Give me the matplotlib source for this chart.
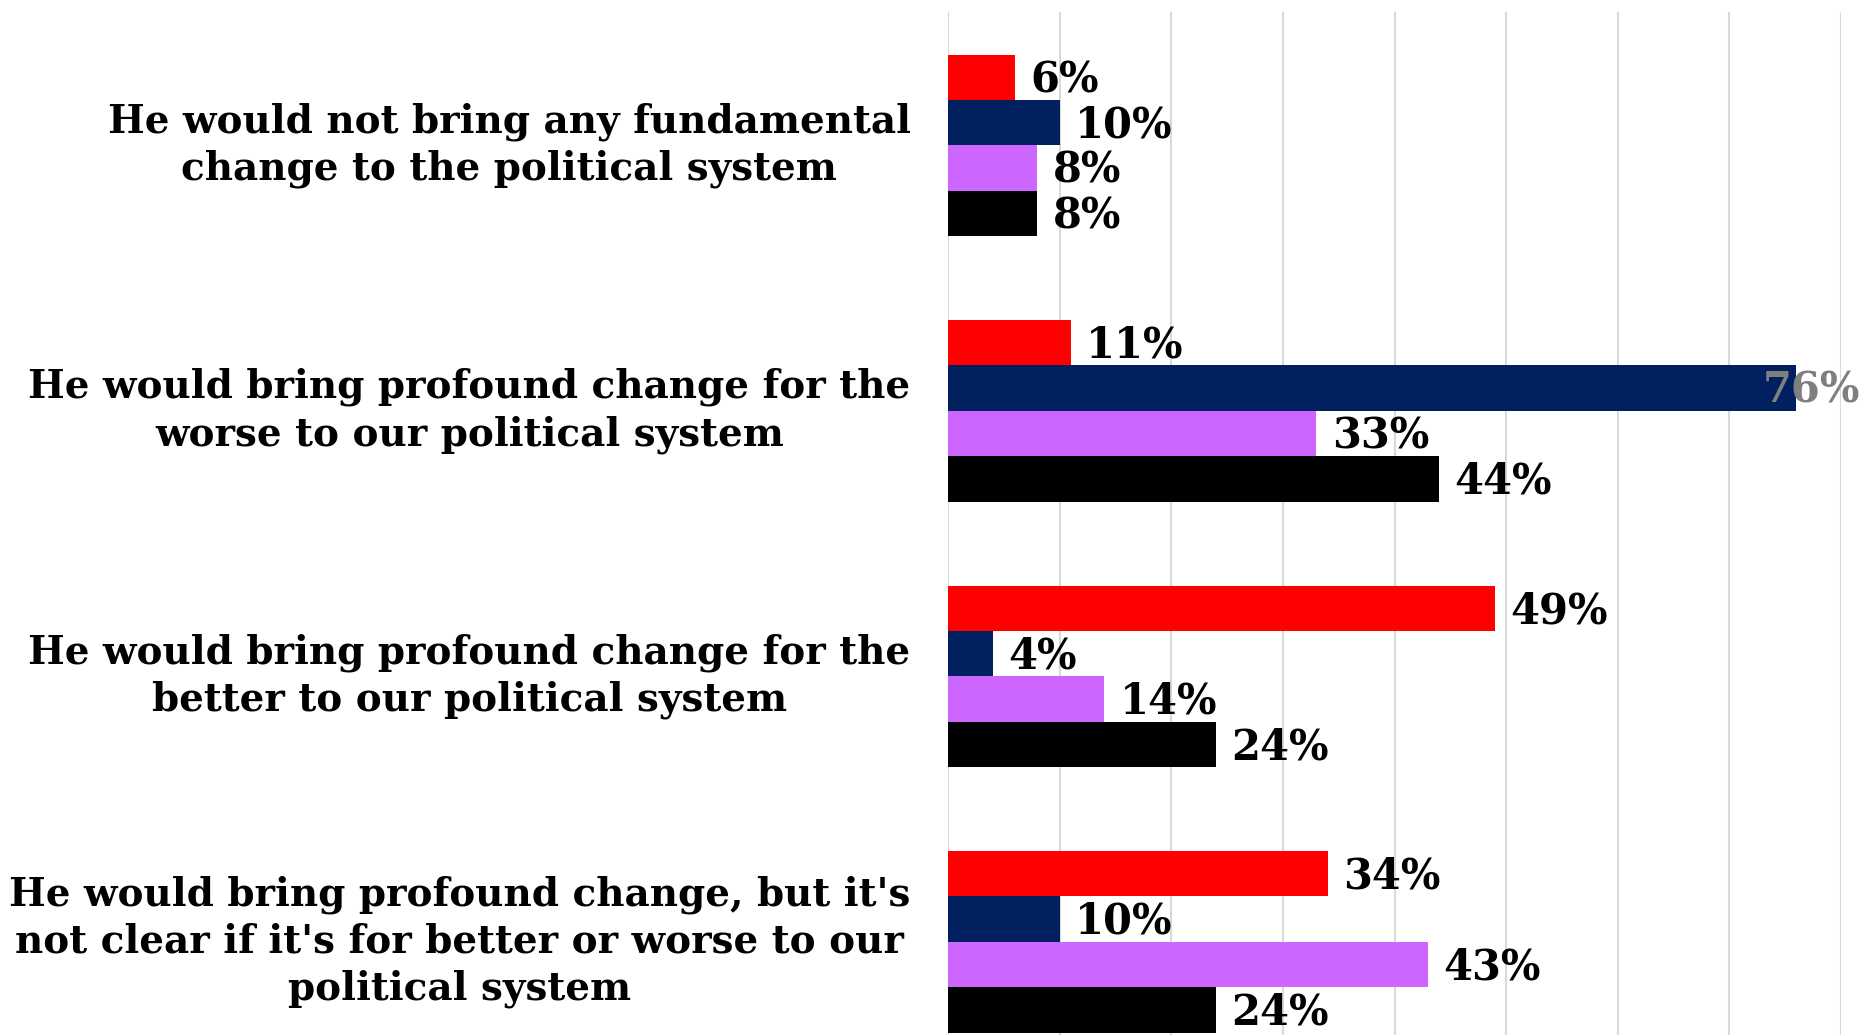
import numpy as np
import matplotlib.pyplot as plt

# answers (top to bottom) and the four series, values in percent
categories = [
    "He would not bring any fundamental\nchange to the political system",
    "He would bring profound change for the\nworse to our political system",
    "He would bring profound change for the\nbetter to our political system",
    "He would bring profound change, but it's\nnot clear if it's for better or worse to our\npolitical system",
]
red_vals = [6, 11, 49, 34]
navy_vals = [10, 76, 4, 10]
purple_vals = [8, 33, 14, 43]
black_vals = [8, 44, 24, 24]

series = [red_vals, navy_vals, purple_vals, black_vals]
colors = ["#FF0000", "#002060", "#CC66FF", "#000000"]

plt.rcParams['font.family'] = ['DejaVu Serif']
plt.rcParams['font.weight'] = 'bold'

fig = plt.figure(figsize=(18.64, 10.35), dpi=100)
ax = fig.add_axes([0.5086, 0.0, 0.9877 - 0.5086, 0.988])

y = np.arange(len(categories))
h = 0.171
for i, (vals, c) in enumerate(zip(series, colors)):
    pos = y - 1.5 * h + i * h
    ax.barh(pos, vals, height=h, color=c, zorder=2)
    for p, v in zip(pos, vals):
        if v > 70:
            # label doesn't fit outside, excel pushes it back over the bar
            ax.annotate(f"{v}%", (v, p), xytext=(-24, -2), textcoords='offset points',
                        ha='left', va='center', fontsize=30, fontweight='bold',
                        color='#7f7f7f', zorder=3)
        else:
            ax.annotate(f"{v}%", (v, p), xytext=(11, -2), textcoords='offset points',
                        ha='left', va='center', fontsize=30, fontweight='bold',
                        color='black', zorder=3)

ax.set_xlim(0, 80)
ax.set_ylim(3.351, -0.501)
ax.set_xticks(np.arange(0, 81, 10))
ax.set_xticklabels([])
ax.set_yticks([])
ax.grid(axis='x', color='#d9d9d9', linewidth=1.5, zorder=0)
ax.tick_params(length=0)
for s in ax.spines.values():
    s.set_visible(False)

# category labels, right aligned block with centred lines
for yy, lab in zip(y, categories):
    ax.annotate(lab, (0, yy), xycoords=('axes fraction', 'data'),
                xytext=(-27, 0), textcoords='offset points',
                ha='right', va='center', multialignment='center',
                fontsize=28, fontweight='bold', linespacing=1.3,
                annotation_clip=False)

fig.savefig("out.png", dpi=100)
